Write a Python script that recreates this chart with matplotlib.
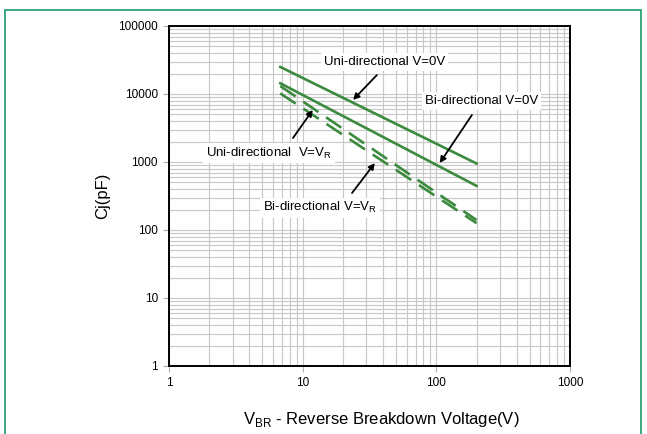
import matplotlib.pyplot as plt
import matplotlib.patches as mpatches
from matplotlib.ticker import LogLocator, NullFormatter, FixedLocator

plt.rcParams['font.family'] = ['Liberation Sans', 'DejaVu Sans']
plt.rcParams['mathtext.fontset'] = 'custom'
plt.rcParams['mathtext.rm'] = 'Liberation Sans'

# data
v_br = [6.8, 200]
uni_0v = [25000, 950]
bi_0v = [14400, 445]
uni_vr = [13100, 140]
bi_vr = [10200, 126]

x_ticks = [1, 10, 100, 1000]
x_ticklabels = ['1', '10', '100', '1000']
y_ticks = [1, 10, 100, 1000, 10000, 100000]
y_ticklabels = ['1', '10', '100', '1000', '10000', '100000']

green = '#3b8a3e'

fig = plt.figure(figsize=(6.47, 4.34), dpi=100)
# outer green frame
fig.patches.append(mpatches.Rectangle((5/647, -0.1), 636/647, 1 - 10/434 + 0.1,
                                      transform=fig.transFigure, fill=False,
                                      edgecolor='#1a9a6a', linewidth=1.2))

ax = fig.add_axes([169/647, 1 - 366/434, 401/647, 340/434])
ax.set_xscale('log')
ax.set_yscale('log')
ax.set_xlim(1, 1000)
ax.set_ylim(1, 100000)

ax.plot(v_br, uni_0v, color=green, lw=1.9)
ax.plot(v_br, bi_0v, color=green, lw=1.9)
ax.plot(v_br, uni_vr, color=green, lw=1.9, dashes=(7, 3.5))
ax.plot(v_br, bi_vr, color=green, lw=1.9, dashes=(7, 3.5))

ax.xaxis.set_major_locator(FixedLocator(x_ticks))
ax.yaxis.set_major_locator(FixedLocator(y_ticks))
ax.set_xticklabels(x_ticklabels)
ax.set_yticklabels(y_ticklabels)
ax.xaxis.set_minor_locator(LogLocator(base=10, subs=range(2, 10)))
ax.yaxis.set_minor_locator(LogLocator(base=10, subs=range(2, 10)))
ax.xaxis.set_minor_formatter(NullFormatter())
ax.yaxis.set_minor_formatter(NullFormatter())
ax.grid(True, which='both', color='#c8c8c8', lw=0.85)
ax.set_axisbelow(True)
ax.tick_params(which='major', length=4, color='#b0b0b0', labelsize=8.5, pad=4)
ax.tick_params(which='minor', length=0)
for s in ax.spines.values():
    s.set_linewidth(1.4)
    s.set_color('black')

ax.set_xlabel('V$_{\\mathregular{BR}}$ - Reverse Breakdown Voltage(V)', fontsize=12)
ax.set_ylabel('Cj(pF)', fontsize=12)
ax.xaxis.set_label_coords(0.53, -0.13)
ax.yaxis.set_label_coords(-0.148, 0.5)

box = dict(facecolor='white', edgecolor='none', pad=2)
tfont = dict(fontsize=9.5, ha='center', va='center', bbox=box)

ax.text(41, 29500, 'Uni-directional V=0V', **tfont)
ax.text(219, 7890, 'Bi-directional V=0V', **tfont)
ax.text(5.6, 1356, 'Uni-directional  V=V$_\\mathregular{R}$', **tfont)
ax.text(13.5, 211, 'Bi-directional V=V$_\\mathregular{R}$', **tfont)

arr = dict(arrowstyle='-|>', color='black', lw=1.3, mutation_scale=9, shrinkA=0, shrinkB=0)
ax.annotate('', xy=(23.8, 8170), xytext=(35.9, 19000), arrowprops=arr)
ax.annotate('', xy=(106, 966), xytext=(184.6, 4910), arrowprops=arr)
ax.annotate('', xy=(11.9, 5820), xytext=(8.46, 2254), arrowprops=arr)
ax.annotate('', xy=(34.7, 966), xytext=(23.4, 350), arrowprops=arr)

plt.savefig('out.png', dpi=100)
